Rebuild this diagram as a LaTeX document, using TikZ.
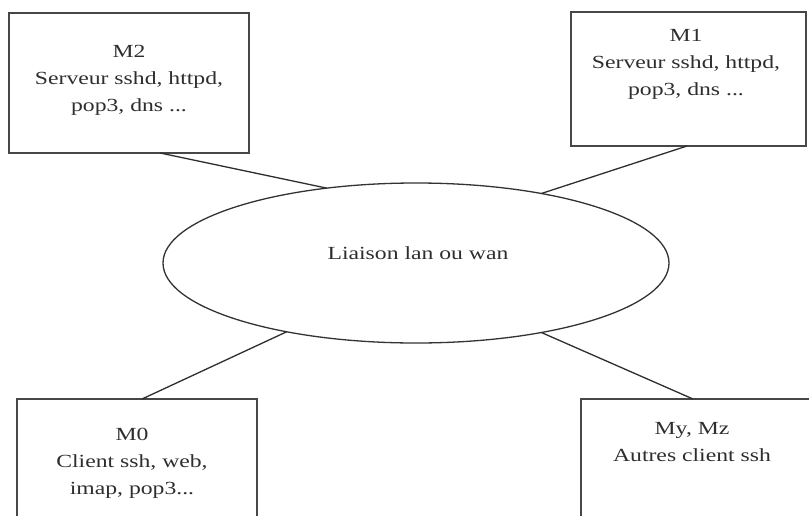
\documentclass[tikz,border=0pt]{standalone}
\usepackage{fontspec}
\setmainfont{Liberation Serif}[FakeStretch=1.28]
\usetikzlibrary{shapes.geometric}
\tikzset{
  boxnode/.style={draw=black!72, line width=1.7pt, rectangle, inner sep=0pt, outer sep=0pt},
  ellnode/.style={draw=black!80, line width=1.3pt, ellipse, inner sep=0pt, outer sep=0pt,
                  minimum width=506pt, minimum height=160pt},
  txt/.style={text=black!82, align=center, inner sep=0pt,
              font={\fontsize{18.5}{27}\selectfont}},
  conn/.style={draw=black!82, line width=1.3pt}
}
\begin{document}
\begin{tikzpicture}[x=1pt, y=-1pt]
\clip (0,0) rectangle (809,515);
\fill[white] (0,0) rectangle (809,515);

\node[boxnode, minimum width=240pt, minimum height=140pt] (m2) at (129,83) {};
\node[boxnode, minimum width=235pt, minimum height=134pt] (m1) at (688.5,79) {};
\node[boxnode, minimum width=240pt, minimum height=141pt] (m0) at (137,469.5) {};
\node[boxnode, minimum width=231pt, minimum height=141pt] (myz) at (696.5,469.5) {};
\node[ellnode] (ell) at (416,263) {};

\node[txt] (t2) at (129,80) {M2\\Serveur sshd, httpd,\\pop3, dns ...};
\node[txt] (t1) at (686,64) {M1\\Serveur sshd, httpd,\\pop3, dns ...};
\node[txt] (t0) at (132,463) {M0\\Client ssh, web,\\imap, pop3...};
\node[txt] (tyz) at (692,442) {My, Mz\\Autres client ssh};
\node[txt] (tl) at (418,253) {Liaison lan ou wan};

\draw[conn] (m2.-66) -- (ell.140);
\draw[conn] ([xshift=-1.5pt]m1.south) -- (ell.29.8);
\draw[conn] ([xshift=5pt]m0.north) -- (ell.208.5);
\draw[conn] ([xshift=-3.5pt]myz.north) -- (ell.331.9);
\end{tikzpicture}
\end{document}
